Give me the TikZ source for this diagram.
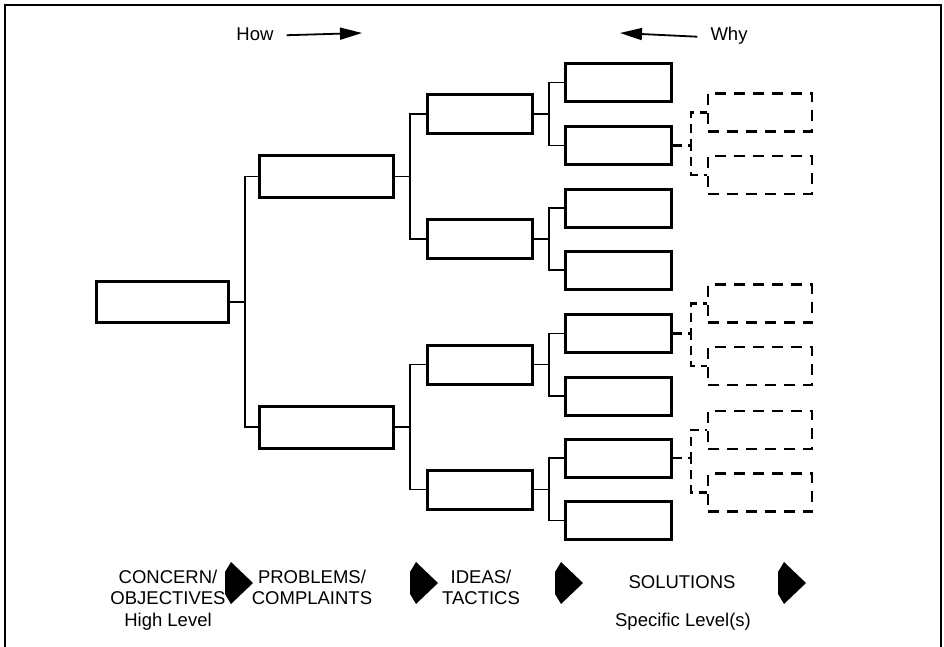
\documentclass[tikz,border=0pt]{standalone}
\usepackage{fontspec}
\setmainfont{Liberation Sans}
\usepackage{tikz}
\usetikzlibrary{arrows.meta}

\begin{document}
\begin{tikzpicture}
  [x=1pt,y=-1pt,
   box/.style={draw,line width=3pt,inner sep=0pt,minimum height=39pt},
   lvla/.style={box,minimum width=132pt,minimum height=41pt},
   lvlb/.style={box,minimum width=134pt,minimum height=42pt},
   lvlc/.style={box,minimum width=105pt},
   lvld/.style={box,minimum width=106pt,minimum height=38pt},
   openbox/.style={draw,line width=2.4pt,dash pattern=on 11pt off 8pt,inner sep=0pt,minimum width=104pt,minimum height=38pt},
   link/.style={line width=1.5pt},
   openlink/.style={line width=2.2pt,dash pattern=on 9pt off 6pt},
   pointer/.style={line width=1.8pt,-{Triangle[length=22pt,width=12pt]}},
   label/.style={inner sep=0pt,font=\fontsize{18.5}{21}\selectfont,align=center},
   fatarrow/.style={fill=black}]
  \useasboundingbox (0,0) rectangle (944,647);
  \draw[line width=2pt] (5,647) -- (5,5) -- (941,5) -- (941,647);

  % how / why
  \node[label,anchor=base] (how) at (255,41) {How};
  \coordinate (howtip) at (362,33);
  \draw[pointer] ([xshift=13pt,yshift=-0.5pt]how.east) -- (howtip);
  \node[label,anchor=base] (why) at (729,41) {Why};
  \coordinate (whytip) at (620,33);
  \draw[pointer] ([xshift=-13pt,yshift=-0.5pt]why.west) -- (whytip);

  % tree
  \node[lvla] (c0) at (162.5,302) {};
  \node[lvlb] (p1) at (326.5,176.5) {};
  \node[lvlb] (p2) at (326.5,427) {};
  \node[lvlc] (t1) at (480,114) {};
  \node[lvlc] (t2) at (480,239) {};
  \node[lvlc] (t3) at (480,364.5) {};
  \node[lvlc] (t4) at (480,489.5) {};
  \node[lvld] (s1) at (618.5,82.5) {};
  \node[lvld] (s2) at (618.5,145.5) {};
  \node[lvld] (s3) at (618.5,208) {};
  \node[lvld] (s4) at (618.5,270) {};
  \node[lvld] (s5) at (618.5,333.5) {};
  \node[lvld] (s6) at (618.5,396) {};
  \node[lvld] (s7) at (618.5,458) {};
  \node[lvld] (s8) at (618.5,520.5) {};
  \node[openbox] (o1) at (760,112.5) {};
  \node[openbox] (o2) at (760,175) {};
  \node[openbox] (o3) at (760,303.5) {};
  \node[openbox] (o4) at (760,366) {};
  \node[openbox] (o5) at (760,430) {};
  \node[openbox] (o6) at (760,492.5) {};

  \foreach \from/\to in {c0/p1,c0/p2,p1/t1,p1/t2,p2/t3,p2/t4,t1/s1,t1/s2,t2/s3,t2/s4,t3/s5,t3/s6,t4/s7,t4/s8}
    \draw[link] (\from.east) -- ++(15,0) |- (\to.west);
  \foreach \from/\to in {s2/o1,s2/o2,s5/o3,s5/o4,s7/o5,s7/o6}
    \draw[openlink] (\from.east) -- ++(18,0) |- (\to.west);

  % bottom row
  \node[label,anchor=north] (concern) at (168,570) {CONCERN/\\OBJECTIVES};
  \node[label,anchor=north] (high) at (168,613) {High Level};
  \node[label,anchor=north] (problems) at (312,570) {PROBLEMS/\\COMPLAINTS};
  \node[label,anchor=north] (ideas) at (481,570) {IDEAS/\\TACTICS};
  \node[label,anchor=north] (solutions) at (682,575) {SOLUTIONS};
  \node[label,anchor=north] (specific) at (683,613) {Specific Level(s)};
  \foreach \x in {239,424,569,792}
    \fill[fatarrow,shift={(\x,583)}] (-14,-11) -- (-8,-21) -- (14,0) -- (-8,21) -- (-14,11) -- cycle;
\end{tikzpicture}
\end{document}
